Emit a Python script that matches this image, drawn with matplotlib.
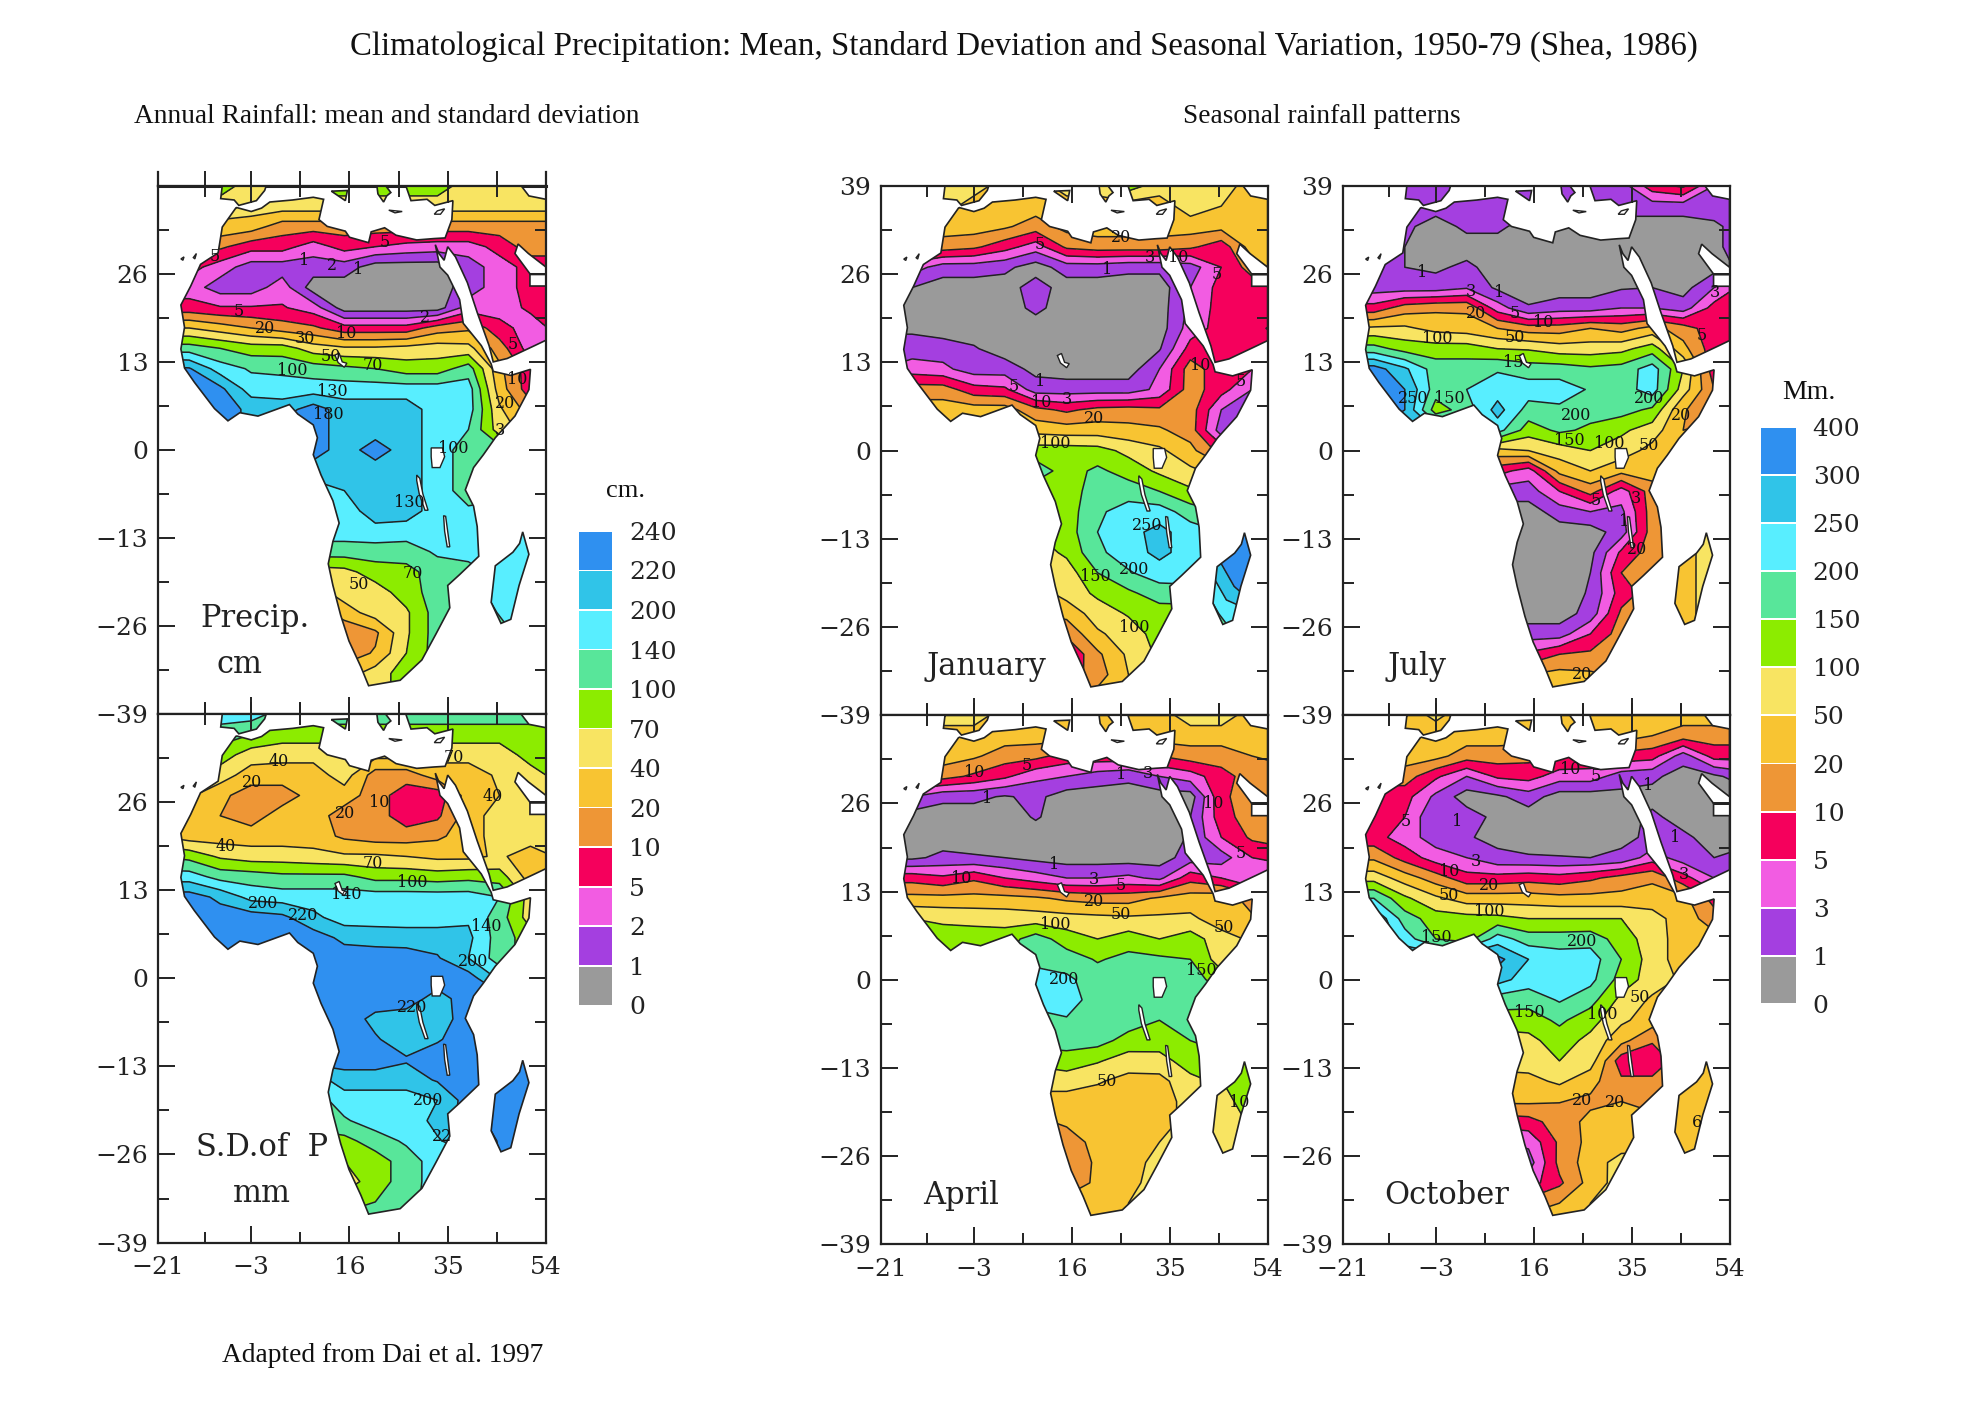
import numpy as np
import matplotlib
matplotlib.use('Agg')
import matplotlib.pyplot as plt
from matplotlib.path import Path
from matplotlib.patches import PathPatch, Polygon

# grid nodes of the hand-read fields
lats = [39, 36, 33, 30, 27, 24, 21, 18, 15, 12, 9, 6, 3, 0, -3, -6, -9, -12, -15, -18, -21, -24, -27, -30, -33, -36]
lons = [-21, -15, -9, -3, 3, 9, 15, 21, 27, 33, 39, 45, 51, 57]
mad_lats = [-12, -16, -20, -24, -27]
mad_lons = [43, 46, 49, 52]

levels_cm = [0, 1, 2, 5, 10, 20, 40, 70, 100, 140, 200, 220, 240]
levels_mm = [0, 1, 3, 5, 10, 20, 50, 100, 150, 200, 250, 300, 400]
colors = ['#9a9a9a', '#a43fe0', '#f25ce2', '#f5005c', '#ee9636', '#f8c432', '#f8e462',
          '#8cec00', '#58e69a', '#58eeff', '#30c4e8', '#2f90f0']

precip = [
    [85, 85, 85, 55, 55, 85, 85, 85, 85, 85, 55, 55, 55, 55],
    [55, 55, 55, 55, 55, 55, 55, 55, 55, 55, 55, 55, 55, 55],
    [35, 35, 35, 30, 15, 15, 15, 15, 15, 15, 15, 15, 15, 15],
    [7, 7, 12, 7, 7, 3.5, 7, 5, 4, 3.5, 3.5, 7, 15, 15],
    [7, 7, 3.5, 1.5, 1.5, 1.5, 1.5, .5, .5, .5, 1.5, 3.5, 7, 7],
    [3.5, 3.5, 1.5, 1.5, 3.5, .5, .5, .5, .5, .5, 1.5, 3.5, 7, 7],
    [7, 7, 5.5, 5.5, 5.5, 3.5, .5, .5, .5, .5, 3.5, 3.5, 6, 7],
    [40, 40, 30, 20, 15, 12, 7, 7, 7, 15, 18, 7, 3.5, 7],
    [120, 120, 100, 85, 85, 55, 45, 45, 50, 55, 50, 15, 3.5, 3.5],
    [225, 222, 170, 135, 130, 120, 110, 100, 85, 85, 120, 25, 7, 15],
    [230, 230, 225, 170, 170, 170, 170, 170, 170, 170, 170, 30, 7, 7],
    [230, 230, 230, 215, 210, 230, 210, 210, 210, 170, 170, 45, 15, 15],
    [230, 230, 230, 215, 230, 230, 210, 210, 210, 170, 140, 55, 30, 30],
    [230, 230, 230, 170, 230, 230, 210, 230, 210, 170, 120, 120, 120, 120],
    [210, 210, 210, 210, 210, 210, 210, 210, 210, 170, 120, 120, 120, 120],
    [170, 170, 170, 170, 170, 170, 200, 210, 210, 170, 120, 120, 120, 120],
    [170, 170, 170, 170, 170, 170, 170, 210, 210, 170, 150, 170, 170, 170],
    [170, 170, 170, 170, 170, 170, 170, 180, 170, 170, 170, 170, 170, 170],
    [120, 120, 120, 120, 120, 120, 120, 120, 120, 150, 170, 170, 170, 170],
    [55, 55, 55, 55, 55, 55, 60, 85, 90, 120, 120, 170, 170, 170],
    [30, 30, 30, 30, 30, 30, 55, 55, 85, 120, 120, 120, 120, 120],
    [15, 15, 15, 15, 15, 15, 30, 55, 65, 120, 120, 120, 120, 120],
    [7, 7, 7, 7, 7, 7, 12, 18, 65, 120, 120, 120, 120, 120],
    [12, 12, 12, 12, 12, 12, 15, 22, 70, 120, 120, 120, 120, 120],
    [30, 30, 30, 30, 30, 30, 30, 55, 85, 120, 120, 120, 120, 120],
    [55, 55, 55, 55, 55, 55, 55, 55, 85, 85, 85, 85, 85, 85],
]
sd = [
    [170, 170, 170, 170, 120, 120, 120, 120, 120, 120, 120, 120, 120, 120],
    [120, 120, 120, 100, 85, 85, 85, 85, 85, 85, 85, 85, 85, 85],
    [85, 85, 85, 55, 50, 50, 50, 50, 50, 50, 50, 50, 85, 85],
    [55, 55, 55, 30, 30, 30, 55, 15, 15, 30, 30, 45, 55, 85],
    [55, 45, 25, 15, 15, 28, 30, 15, 7, 7, 30, 40, 55, 70],
    [55, 35, 20, 15, 30, 30, 15, 15, 7, 9, 30, 55, 55, 55],
    [40, 30, 30, 30, 30, 30, 18, 15, 15, 18, 30, 55, 55, 55],
    [100, 90, 65, 55, 55, 50, 45, 45, 40, 35, 35, 45, 30, 45],
    [170, 170, 125, 120, 110, 110, 110, 90, 90, 85, 90, 85, 30, 50],
    [230, 230, 215, 180, 170, 170, 170, 170, 170, 170, 170, 140, 55, 55],
    [230, 230, 230, 230, 225, 205, 170, 170, 170, 170, 190, 120, 55, 55],
    [230, 230, 230, 230, 230, 230, 215, 212, 210, 210, 205, 120, 85, 85],
    [230, 230, 230, 230, 230, 230, 230, 230, 230, 222, 200, 120, 85, 85],
    [230, 230, 230, 230, 230, 230, 230, 230, 230, 230, 230, 190, 170, 170],
    [230, 230, 230, 230, 230, 230, 230, 230, 230, 212, 230, 230, 230, 230],
    [230, 230, 230, 230, 230, 230, 230, 215, 210, 210, 230, 230, 230, 230],
    [230, 230, 230, 230, 230, 230, 230, 222, 210, 218, 230, 230, 230, 230],
    [230, 230, 230, 230, 230, 230, 230, 230, 222, 230, 230, 230, 230, 230],
    [170, 170, 170, 170, 170, 170, 210, 210, 210, 222, 230, 230, 230, 230],
    [120, 120, 120, 120, 120, 120, 170, 170, 170, 200, 230, 230, 230, 230],
    [120, 120, 120, 120, 120, 120, 135, 170, 170, 205, 230, 230, 230, 230],
    [85, 85, 85, 85, 85, 85, 90, 120, 150, 195, 210, 210, 210, 210],
    [70, 70, 70, 70, 70, 70, 70, 85, 120, 170, 170, 170, 170, 170],
    [55, 55, 55, 55, 55, 55, 55, 85, 120, 170, 170, 170, 170, 170],
    [85, 85, 85, 85, 85, 85, 85, 100, 125, 170, 170, 170, 170, 170],
    [120, 120, 120, 120, 120, 120, 120, 120, 140, 170, 170, 170, 170, 170],
]
january = [
    [75, 75, 75, 75, 35, 35, 75, 75, 125, 75, 75, 75, 35, 35],
    [75, 75, 75, 35, 35, 35, 35, 35, 35, 35, 75, 50, 35, 35],
    [35, 35, 35, 35, 25, 15, 30, 35, 35, 35, 35, 30, 35, 35],
    [15, 15, 15, 12, 7, 4, 12, 15, 15, 15, 12, 7, 35, 35],
    [7, 4, 2, 2, 1.5, .5, 2, 2, 1.5, 1.5, 2, 5, 15, 35],
    [.5, 1, .5, .5, .5, 2, .5, .5, .5, .5, 3, 7, 7, 12],
    [.5, .5, .5, .5, .5, 1.5, .5, .5, .5, .5, 3.5, 7, 7, 7],
    [.8, .8, .5, .5, .5, .5, .5, .5, .5, .5, 4, 7, 7, 4],
    [2, 2, 2, 1.2, .5, .5, .5, .5, .5, .9, 7, 7, 7, 7],
    [3, 4, 3.5, 2, 2, .7, .5, .5, .5, 3, 15, 7, 5, 5],
    [15, 15, 15, 7, 6, 2, 2, 2, 2, 3.5, 15, 7, 3, 3],
    [35, 35, 35, 35, 35, 13, 9, 13, 14, 12, 15, 3, 2, 2],
    [40, 40, 40, 40, 40, 40, 35, 35, 30, 25, 15, 2, 2, 2],
    [125, 125, 125, 125, 125, 125, 125, 120, 85, 60, 30, 8, 7, 7],
    [175, 175, 175, 175, 175, 175, 130, 160, 130, 90, 60, 40, 40, 40],
    [125, 125, 125, 125, 125, 125, 125, 175, 175, 150, 110, 100, 100, 100],
    [125, 125, 125, 125, 125, 125, 125, 190, 225, 225, 175, 150, 150, 150],
    [100, 100, 100, 100, 100, 100, 125, 200, 235, 265, 225, 200, 200, 200],
    [75, 75, 75, 75, 75, 75, 110, 190, 225, 265, 225, 225, 225, 225],
    [60, 60, 60, 60, 60, 60, 75, 150, 195, 225, 225, 225, 225, 225],
    [35, 35, 35, 35, 35, 35, 70, 110, 140, 175, 180, 180, 180, 180],
    [25, 25, 25, 25, 25, 25, 30, 75, 105, 125, 125, 125, 125, 125],
    [8, 8, 8, 8, 8, 8, 12, 45, 75, 120, 125, 125, 125, 125],
    [5, 5, 5, 5, 5, 5, 5, 18, 60, 110, 125, 125, 125, 125],
    [7, 7, 7, 7, 7, 7, 7, 15, 50, 80, 80, 80, 80, 80],
    [15, 15, 15, 15, 15, 15, 15, 30, 50, 75, 75, 75, 75, 75],
]
july = [
    [2, 2, 2, 2, 2, 2, 2, 2, 2, 2, 8, 12, 3, 2],
    [2, 2, 2, 2, 2, 2, 2, 2, 2, 2, 2, 2, 2, 2],
    [2, 2, 1.5, .5, 1.5, 1.5, .5, .5, .5, .5, .5, .5, .8, 2],
    [2, 2, 1, .5, .5, .5, .5, .5, .5, .5, .5, .5, .8, 2],
    [2, 2, 1, .8, 1.5, .5, .5, .5, .5, .5, .5, .5, .6, 1.5],
    [2, 2, 2, 2, 2.8, .8, .5, .5, .5, .9, 1, .6, 3, 7],
    [7, 7, 15, 18, 18, 4, 1.2, 2, 2, 3, 3, 2, 7, 15],
    [50, 60, 60, 40, 35, 20, 15, 15, 20, 16, 30, 15, 7, 15],
    [175, 170, 130, 125, 125, 100, 95, 75, 75, 85, 125, 30, 7, 7],
    [350, 350, 260, 175, 175, 195, 175, 175, 160, 170, 225, 100, 7, 7],
    [350, 350, 300, 175, 200, 225, 225, 225, 195, 175, 225, 75, 10, 7],
    [350, 350, 300, 125, 175, 270, 180, 190, 170, 170, 140, 22, 15, 15],
    [300, 300, 300, 250, 230, 220, 125, 160, 140, 110, 75, 20, 30, 30],
    [50, 50, 50, 50, 50, 40, 50, 75, 100, 75, 40, 35, 35, 35],
    [7, 7, 7, 7, 7, 7, 4, 30, 50, 30, 35, 35, 35, 35],
    [2, 2, 2, 2, 2, 2, 2, 5, 14, 4, 15, 30, 35, 35],
    [.5, .5, .5, .5, .5, .5, .5, 2, 3, 2.5, 15, 20, 20, 20],
    [.5, .5, .5, .5, .5, .5, .5, .5, .5, 2, 15, 20, 20, 20],
    [.5, .5, .5, .5, .5, .5, .5, .5, .7, 6, 15, 15, 15, 15],
    [.5, .5, .5, .5, .5, .5, .5, .5, 1, 10, 15, 15, 15, 15],
    [.5, .5, .5, .5, .5, .5, .5, .5, 1.2, 7.5, 15, 15, 15, 15],
    [.5, .5, .5, .5, .5, .5, .5, .5, 1.8, 12, 15, 15, 15, 15],
    [1.5, 1.5, 1.5, 1.5, 1.5, 1.5, 2, 2, 5, 15, 15, 15, 15, 15],
    [4, 4, 4, 4, 4, 4, 6, 10, 12, 15, 15, 15, 15, 15],
    [20, 20, 20, 20, 20, 20, 20, 30, 25, 18, 18, 18, 18, 18],
    [35, 35, 35, 35, 35, 35, 35, 35, 30, 25, 25, 25, 25, 25],
]
april = [
    [75, 75, 75, 75, 35, 35, 35, 35, 35, 35, 75, 75, 35, 35],
    [35, 35, 35, 35, 35, 35, 35, 35, 35, 35, 35, 35, 35, 35],
    [35, 35, 35, 25, 15, 13, 8, 8, 8, 10, 15, 15, 20, 30],
    [15, 15, 14, 9, 6, 3.5, 3, 2, 1.5, 3, 4, 8, 15, 15],
    [3, 3, 1.5, 1.5, .9, 1.5, .5, .5, .5, .5, .5, 9, 15, 15],
    [.5, .5, .5, .5, .5, 1.2, .5, .5, .5, .5, 1, 8, 15, 15],
    [.5, .5, .5, .5, .5, .5, .5, .5, .5, .5, 1.2, 5, 12, 15],
    [.8, .8, 1.5, 1.2, 1, .7, .5, .5, .5, .5, 2, 2, 5, 7],
    [8, 8, 6, 9, 5, 4, 3, 3, 3.5, 2.5, 8, 5, 3, 3],
    [30, 30, 30, 30, 30, 25, 18, 16, 16, 25, 35, 40, 15, 15],
    [100, 100, 90, 85, 80, 75, 70, 65, 60, 60, 60, 35, 25, 25],
    [125, 125, 125, 125, 125, 175, 125, 100, 125, 100, 125, 70, 45, 45],
    [125, 125, 125, 125, 150, 180, 175, 145, 165, 160, 150, 75, 75, 75],
    [200, 200, 200, 200, 200, 230, 210, 175, 175, 175, 175, 125, 100, 100],
    [225, 225, 225, 225, 225, 225, 225, 175, 175, 175, 175, 175, 175, 175],
    [175, 175, 175, 175, 175, 175, 195, 175, 175, 150, 175, 175, 175, 175],
    [175, 175, 175, 175, 175, 175, 175, 170, 130, 125, 150, 175, 175, 175],
    [110, 110, 110, 110, 110, 110, 125, 105, 75, 80, 125, 130, 130, 130],
    [75, 75, 75, 75, 75, 75, 75, 55, 40, 40, 85, 110, 110, 110],
    [35, 35, 35, 35, 35, 35, 35, 35, 35, 35, 70, 75, 75, 75],
    [18, 18, 18, 18, 18, 18, 25, 35, 35, 35, 70, 75, 75, 75],
    [15, 15, 15, 15, 15, 15, 15, 30, 35, 50, 75, 75, 75, 75],
    [7, 7, 7, 7, 7, 7, 13, 25, 35, 70, 75, 75, 75, 75],
    [10, 10, 10, 10, 10, 10, 12, 28, 40, 75, 75, 75, 75, 75],
    [35, 35, 35, 35, 35, 35, 35, 35, 50, 75, 75, 75, 75, 75],
    [35, 35, 35, 35, 35, 35, 35, 35, 50, 75, 75, 75, 75, 75],
]
october = [
    [35, 35, 35, 60, 35, 35, 35, 35, 35, 35, 35, 35, 35, 35],
    [35, 35, 35, 35, 35, 35, 35, 35, 35, 35, 20, 15, 15, 15],
    [35, 35, 35, 30, 15, 15, 13, 10, 9, 8, 7, 2, 7, 7],
    [15, 15, 15, 6, 3, 6, 7, 4, 4, 2, 1.5, .5, .8, 2],
    [7, 7, 7, 2.5, .5, .8, 2, .5, .5, .7, .6, .5, .5, .5],
    [7, 7, 5, 1, 2, .7, .5, .5, .5, .5, 1.5, .5, .5, .5],
    [7, 7, 4, 2, 1.2, .7, .5, .5, .5, .7, 1.5, 1.5, .5, .5],
    [18, 18, 8, 4, 3, 1.5, 1.2, 1.1, 1, 1.5, 4, 2, 1, 2],
    [80, 80, 35, 15, 7, 7, 8, 7, 9, 14, 18, 7, 3, 3],
    [200, 200, 110, 60, 35, 35, 35, 30, 30, 30, 35, 30, 8, 8],
    [300, 300, 175, 125, 120, 115, 100, 100, 100, 100, 70, 35, 15, 15],
    [300, 300, 225, 150, 125, 225, 175, 175, 180, 125, 75, 35, 30, 30],
    [300, 300, 300, 300, 300, 330, 250, 225, 225, 150, 75, 35, 35, 35],
    [260, 260, 260, 260, 260, 270, 225, 225, 215, 130, 75, 45, 45, 45],
    [175, 175, 175, 175, 175, 175, 170, 205, 170, 85, 45, 45, 45, 45],
    [125, 125, 125, 125, 125, 125, 125, 160, 120, 60, 35, 35, 35, 35],
    [75, 75, 75, 75, 75, 75, 85, 125, 85, 30, 11, 35, 35, 35],
    [75, 75, 75, 75, 75, 75, 75, 100, 75, 7, 7, 15, 15, 15],
    [35, 35, 35, 35, 35, 35, 40, 60, 30, 12, 12, 15, 15, 15],
    [25, 25, 25, 25, 25, 25, 25, 21, 18, 20, 15, 15, 15, 15],
    [7, 7, 7, 7, 7, 7, 8, 15, 28, 35, 35, 35, 35, 35],
    [3, 3, 3, 3, 3, 3, 3.5, 12, 30, 35, 35, 35, 35, 35],
    [2, 2, 2, 2, 2, 2, 2, 13, 35, 70, 75, 75, 75, 75],
    [4, 4, 4, 4, 4, 4, 4, 9, 32, 75, 75, 75, 75, 75],
    [15, 15, 15, 15, 15, 15, 15, 20, 50, 75, 75, 75, 75, 75],
    [35, 35, 35, 35, 35, 35, 35, 35, 50, 75, 75, 75, 75, 75],
]

mad_precip = [[170, 170, 190, 190], [170, 170, 190, 190], [170, 170, 190, 190], [120, 170, 170, 190], [120, 120, 170, 170]]
mad_sd = [[230, 230, 230, 230], [230, 230, 230, 230], [230, 230, 230, 230], [210, 230, 230, 230], [200, 230, 230, 230]]
mad_jan = [[350, 350, 350, 350], [275, 350, 350, 350], [225, 275, 350, 350], [175, 225, 225, 225], [175, 175, 175, 175]]
mad_jul = [[35, 35, 75, 75], [35, 35, 75, 75], [35, 35, 75, 75], [35, 35, 75, 75], [35, 35, 75, 75]]
mad_apr = [[125, 125, 125, 125], [75, 100, 125, 125], [75, 75, 100, 125], [40, 75, 75, 75], [40, 75, 75, 75]]
mad_oct = [[35, 35, 35, 35], [35, 35, 35, 35], [35, 35, 35, 35], [35, 35, 35, 35], [35, 35, 35, 35]]

# coast, lon/lat
mainland = [(-5.9, 35.8), (-3, 35.2), (-1, 35.7), (.6, 36.6), (5, 36.9), (9, 37.3), (11, 37), (10.4, 35), (10.1, 34),
            (11.7, 33), (15.2, 32.3), (16, 31.4), (19.7, 30.6), (20.2, 32.2), (22.8, 32.8), (25, 31.7), (29, 31),
            (32.3, 31.2), (34.5, 31.3), (35.8, 34), (36, 36.8), (32.5, 36.1), (31, 37), (27.9, 36.8), (26.9, 39),
            (49.2, 39), (50.7, 37.5), (54, 37), (54, 27), (50.6, 29), (48.6, 30.4), (48, 29), (50.9, 26), (54, 26),
            (54, 25.9), (50.9, 25.9), (50.9, 24.2), (54, 24.2), (54, 16.2), (51.8, 15.4),
            (46.5, 13.5), (43.8, 13), (43, 15.4), (40.7, 20.3), (38.8, 24.7), (36.5, 28.5), (35, 30), (34.3, 28),
            (33.3, 29), (32.6, 30.3), (33.5, 27), (35, 25.8), (37.3, 22.2), (38, 18.7), (41.5, 15.4), (43.4, 12.7),
            (43.8, 11.6), (47.2, 11), (51, 11.9), (50.7, 8.9), (48, 5), (44.2, 1.8), (41.9, -.7), (40, -2.6), (38.4, -5.9),
            (40, -8.3), (40.7, -11.3), (41, -15.7), (37.3, -18.4), (35, -20), (35.4, -23.3), (32.7, -27.2), (30, -31),
            (25.8, -34), (19.7, -34.8), (18.2, -32), (15.9, -28.2), (14.3, -24.4), (12.8, -20), (11.9, -16.8), (12.8, -13.5),
            (14, -10.8), (12.8, -7.5), (10.5, -3.7), (9, -.7), (9.8, 1.8), (9, 3.7), (6, 5.3), (4.4, 6.7), (-1.7, 5),
            (-5.2, 5.5), (-7.5, 4.3), (-10.1, 6.1), (-14, 10), (-15.9, 12.1), (-16.6, 14.9), (-15.9, 18.1), (-16.6, 21.4),
            (-14.7, 24.2), (-12.8, 27.4), (-9.4, 29.1), (-8.6, 32.9), (-5.9, 35.8)]
spain = [(-8.6, 39), (-8.9, 37.1), (-6.3, 36.9), (-5.4, 36.1), (-2, 36.8), (-.4, 38.3), (-.1, 39), (-8.6, 39)]
sicily = [(12.5, 38.2), (15.6, 38.3), (15.2, 36.8), (12.5, 38.2)]
greece = [(21.3, 39), (21.5, 37.8), (22.6, 36.6), (23.2, 37.5), (24, 38), (23, 39), (21.3, 39)]
madagascar = [(49.5, -12.1), (50.7, -15.4), (48.8, -20), (47.2, -25), (45.3, -25.6), (43.4, -22.5), (44.2, -17.1),
              (47.6, -15.1), (48.9, -13.8), (49.5, -12.1)]
lakes = [[(31.8, .3), (34, .3), (34.4, -1), (33.5, -2.6), (32, -2.6), (31.8, -1)],
         [(29, -3.7), (29.6, -4.2), (30.2, -6.5), (31.2, -8.9), (30.6, -8.9), (29.5, -6.5), (29, -4.5)],
         [(34.2, -9.7), (34.6, -9.8), (35.4, -14.3), (34.9, -14.3), (34.4, -12)],
         [(13.2, 14), (14, 14.3), (14.6, 13), (15.5, 12.8), (15, 12.2), (13.8, 12.9)],
         [(32.4, 34.8), (33, 35.3), (34.4, 35.6), (33.6, 34.8)],
         [(23.6, 35.4), (26.2, 35.2), (24.8, 35)],
         [(-16.6, 28.2), (-16, 28.5), (-16.2, 28)],
         [(-14.2, 28.4), (-13.6, 29), (-13.9, 28.2)]]

labels_precip = [('5', -10, 28.6), ('5', 22.9, 30.6), ('1', 7.3, 28), ('2', 12.6, 27.3), ('1', 17.6, 26.7), ('5', -5.5, 20.5),
                 ('20', -.3, 18), ('30', 7.3, 16.4), ('10', 15.3, 17.2), ('2', 30.6, 19.5), ('5', 47.5, 15.6), ('50', 12.4, 13.8),
                 ('70', 20.5, 12.5), ('100', 4.9, 11.7), ('130', 12.6, 8.6), ('180', 11.9, 5.2), ('100', 36, .2), ('130', 27.6, -7.8),
                 ('70', 28.3, -18.2), ('50', 17.8, -19.8), ('10', 48.4, 10.4), ('20', 46.1, 6.8), ('3', 45, 2.8)]
labels_sd = [('40', 2.3, 32), ('20', -2.9, 28.9), ('40', -8, 19.4), ('10', 21.7, 25.9), ('20', 15.1, 24.4), ('70', 20.5, 16.9),
             ('100', 28.1, 14.2), ('140', 15.3, 12.4), ('200', -.7, 11), ('220', 7, 9.3), ('70', 36.2, 32.6), ('40', 43.6, 26.8),
             ('140', 42.5, 7.7), ('200', 40, 2.5), ('220', 28.1, -4.3), ('200', 31.2, -18.1), ('22', 33.9, -23.3)]
labels_jan = [('5', 9.8, 30.3), ('20', 25.6, 31.4), ('3', 31.1, 28.5), ('10', 36.6, 28.5), ('5', 44.1, 25.9), ('1', 22.8, 26.6),
              ('10', 40.9, 12.5), ('5', 48.8, 10.2), ('1', 9.8, 10.2), ('5', 4.8, 9.5), ('10', 10.1, 7.1), ('3', 15.1, 7.5),
              ('20', 20.3, 4.7), ('100', 12.7, 1.1), ('250', 30.7, -11.1), ('200', 28.1, -17.5), ('150', 20.5, -18.6), ('100', 28.2, -26.1)]
labels_jul = [('1', -5.6, 26.2), ('3', 3.9, 23.5), ('1', 9.3, 23.3), ('20', 4.8, 20.2), ('5', 12.4, 20.2), ('10', 17.8, 18.8),
              ('100', -2.8, 16.5), ('50', 12.4, 16.6), ('15', 12, 13), ('250', -7.4, 7.7), ('150', -.4, 7.7), ('200', 24.3, 5.2),
              ('200', 38.4, 7.7), ('150', 23, 1.5), ('100', 30.6, 1.1), ('50', 38.4, .8), ('20', 44.5, 5.2), ('5', 28, -7.4),
              ('3', 35.8, -7.1), ('1', 33.6, -10.5), ('20', 36, -14.5), ('20', 25.4, -33), ('3', 51.2, 23.3), ('5', 48.6, 16.9)]
labels_apr = [('5', 7.3, 31.6), ('10', -2.9, 30.5), ('1', 25.6, 30.3), ('3', 30.8, 30.4), ('1', -.4, 26.7), ('10', 43.4, 26),
              ('5', 48.8, 18.6), ('1', 12.5, 17), ('3', 20.3, 14.8), ('10', -5.5, 14.9), ('5', 25.5, 13.9), ('20', 20.3, 11.5),
              ('50', 25.5, 9.6), ('100', 12.7, 8.2), ('50', 45.4, 7.7), ('150', 41.2, 1.4), ('200', 14.6, 0), ('50', 22.8, -15.1),
              ('10', 48.4, -18.2)]
labels_oct = [('10', 23, 31), ('5', 28, 30), ('5', -8.8, 23.4), ('1', 1.1, 23.4), ('3', 4.7, 17.5), ('10', -.3, 15.9),
              ('20', 7.3, 13.9), ('50', -.4, 12.4), ('100', 7.4, 10.1), ('150', -2.9, 6.2), ('200', 25.4, 5.6), ('150', 15.2, -4.8),
              ('100', 29.4, -5.2), ('50', 36.5, -2.7), ('20', 25.4, -17.8), ('20', 31.7, -18.2), ('1', 43.5, 21), ('3', 45.1, 15.5),
              ('1', 38.3, 28.6), ('6', 47.6, -21.1)]

xtick_major = [-21, -3, 16, 35, 54]
xtick_minor = [-12, 6.5, 25.5, 44.5]
ytick_major = [-39, -26, -13, 0, 13, 26, 39]
ytick_minor = [-32.5, -19.5, -6.5, 6.5, 19.5, 32.5]
legend_cm = ['240', '220', '200', '140', '100', '70', '40', '20', '10', '5', '2', '1', '0']
legend_mm = ['400', '300', '250', '200', '150', '100', '50', '20', '10', '5', '3', '1', '0']

W, H = 1968, 1421
S = 1968 / 1568
SERIF = 'Liberation Serif'
WIDE = 'DejaVu Serif'
INK = '#222222'


def to_index(field, levels):
    return np.interp(np.array(field, dtype=float), levels, np.arange(13))


def shown_axes(fig, x0, x1, y0, y1):
    # coordinates as measured on the 1568 wide copy, y going down
    return fig.add_axes([x0 * S / W, 1 - y1 * S / H, (x1 - x0) * S / W, (y1 - y0) * S / H])


def fig_text(fig, x, y, s, **kw):
    fig.text(x * S / W, 1 - y * S / H, s, va='center', color='#111111', **kw)


def draw_field(ax, x, y, z, clip):
    cf = ax.contourf(x, y, z, levels=np.arange(13), colors=colors, extend='neither', zorder=1)
    cf.set_clip_path(clip)
    cl = ax.contour(x, y, z, levels=np.arange(1, 12), colors=INK, linewidths=1.1, zorder=2)
    cl.set_clip_path(clip)


def panel(fig, box, field, mad, levels, labels, name, ylab39=False, xlabels=False, overhang=None, top_lw=1.3):
    ax = shown_axes(fig, *box)
    ax.set_xlim(-21, 54)
    ax.set_ylim(-39, 39)

    land = Path.make_compound_path(Path(mainland), Path(spain), Path(sicily), Path(greece))
    land_patch = PathPatch(land, fc='none', ec=INK, lw=1.2, zorder=3)
    ax.add_patch(land_patch)
    mad_patch = Polygon(madagascar, closed=True, fc='none', ec=INK, lw=1.2, zorder=3)
    ax.add_patch(mad_patch)

    draw_field(ax, lons, lats, to_index(field, levels), land_patch)
    draw_field(ax, mad_lons, mad_lats, to_index(mad, levels), mad_patch)

    for lake in lakes:
        ax.add_patch(Polygon(lake, closed=True, fc='white', ec=INK, lw=1, zorder=4))

    for txt, lon, lat in labels:
        ax.text(lon, lat, txt, fontsize=11.5, family=WIDE, ha='center', va='center', color='#111111', zorder=5)

    ax.text(*name[1], name[0], fontsize=22, family=WIDE, ha='center', va='center', color=INK, zorder=5)
    if len(name) > 2:
        ax.text(*name[3], name[2], fontsize=22, family=WIDE, ha='center', va='center', color=INK, zorder=5)

    ax.set_xticks(xtick_major)
    ax.set_xticks(xtick_minor, minor=True)
    ax.set_yticks(ytick_major)
    ax.set_yticks(ytick_minor, minor=True)
    ax.tick_params(which='major', direction='in', top=True, right=True, length=12, width=1.4, color=INK)
    ax.tick_params(which='minor', direction='in', top=True, right=True, length=8, width=1.4, color=INK)
    ylabs = [str(v).replace('-', '\u2212') for v in ytick_major]
    if not ylab39:
        ylabs[-1] = ''
    ax.set_yticklabels(ylabs, fontsize=18, family=WIDE, color=INK)
    if xlabels:
        ax.set_xticklabels([str(v).replace('-', '\u2212') for v in xtick_major], fontsize=18, family=WIDE, color=INK)
    else:
        ax.set_xticklabels([])
    ax.tick_params(axis='y', pad=7)
    ax.tick_params(axis='x', pad=10)
    for sp in ax.spines.values():
        sp.set_linewidth(1.6)
        sp.set_color(INK)

    if overhang:
        top = ax.secondary_xaxis('top')
        top.set_xticks(xtick_major)
        top.set_xticks(xtick_minor, minor=True)
        top.tick_params(which='both', direction='out', length=overhang, width=1.4, color=INK, labeltop=False)
        top.spines['top'].set_linewidth(top_lw)
        top.spines['top'].set_color(INK)
    return ax


def legend_bar(fig, box, labels):
    ax = shown_axes(fig, *box)
    ax.barh(np.arange(12), 1, height=.96, left=0, color=colors)
    ax.set_xlim(0, 1)
    ax.set_ylim(-.5, 11.5)
    ax.set_xticks([])
    ax.set_yticks(np.arange(13) - .5)
    ax.set_yticklabels(labels[::-1], fontsize=18, family=WIDE, color=INK)
    ax.yaxis.tick_right()
    ax.tick_params(axis='y', length=0, pad=12)
    for tick in ax.get_yticklabels():
        tick.set_ha('left')
    for sp in ax.spines.values():
        sp.set_visible(False)


fig = plt.figure(figsize=(W / 100, H / 100), dpi=100, facecolor='white')

ax_a = panel(fig, (126, 435, 148, 569), precip, mad_precip, levels_cm, labels_precip,
             ('Precip.', (-2.3, -24.9), 'cm', (-5.2, -31.6)), overhang=11, top_lw=2.2)
ax_a.plot([-21, -21], [39, 41], color=INK, lw=1.6, clip_on=False)
ax_a.plot([54, 54], [39, 41], color=INK, lw=1.6, clip_on=False)

panel(fig, (126, 435, 569, 990), sd, mad_sd, levels_cm, labels_sd,
      ('S.D.of  P', (-.9, -24.9), 'mm', (-.9, -31.8)), xlabels=True, overhang=9)
panel(fig, (702, 1010, 148, 570), january, mad_jan, levels_mm, labels_jan,
      ('January', (-.5, -31.8)), ylab39=True)
panel(fig, (1070, 1378, 148, 570), july, mad_jul, levels_mm, labels_jul,
      ('July', (-6.6, -31.8)), ylab39=True)
panel(fig, (702, 1010, 570, 991), april, mad_apr, levels_mm, labels_apr,
      ('April', (-5.4, -31.8)), xlabels=True, overhang=9)
panel(fig, (1070, 1378, 570, 991), october, mad_oct, levels_mm, labels_oct,
      ('October', (-.8, -31.8)), xlabels=True, overhang=9)

legend_bar(fig, (461, 488, 423, 801), legend_cm)
legend_bar(fig, (1403, 1431, 340, 800), legend_mm)

fig_text(fig, 816, 37, 'Climatological Precipitation: Mean, Standard Deviation and Seasonal Variation, 1950-79 (Shea, 1986)',
         fontsize=23.7, family=SERIF, ha='center')
fig_text(fig, 308, 93, 'Annual Rainfall: mean and standard deviation', fontsize=19.7, family=SERIF, ha='center')
fig_text(fig, 1053, 93, 'Seasonal rainfall patterns', fontsize=19.7, family=SERIF, ha='center')
fig_text(fig, 305, 1080, 'Adapted from Dai et al. 1997', fontsize=19.7, family=SERIF, ha='center')
fig_text(fig, 498, 391, 'cm.', fontsize=19, family=SERIF, ha='center')
fig_text(fig, 1441, 313, 'Mm.', fontsize=20, family=SERIF, ha='center')

fig.savefig('out.png', dpi=100)
